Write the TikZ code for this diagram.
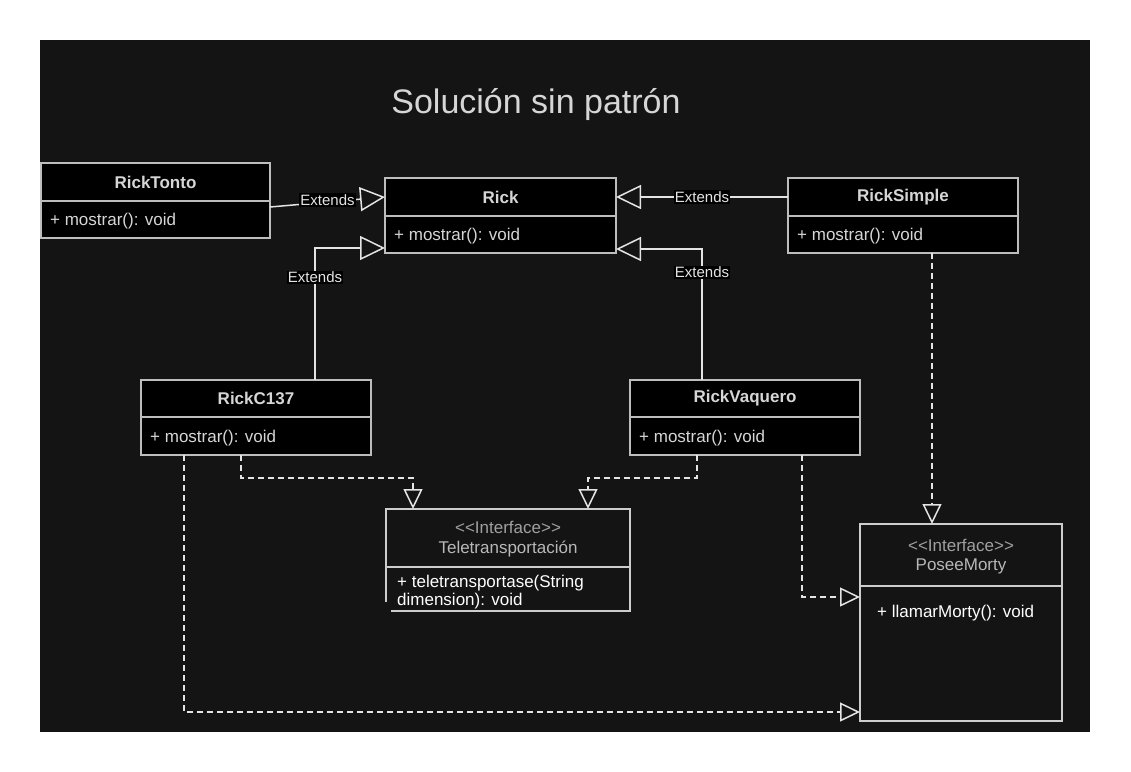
\documentclass[tikz,border=0pt]{standalone}
\usepackage{fontspec}
\setmainfont{Liberation Sans}
\usetikzlibrary{arrows.meta,calc}
\definecolor{bg}{HTML}{141414}
\definecolor{boxline}{HTML}{BDBDBD}
\definecolor{hdrtext}{HTML}{D6D6D6}
\definecolor{conn}{HTML}{E4E4E4}
\definecolor{stereo}{HTML}{A0A0A0}
\definecolor{iname}{HTML}{B8B8B8}
\tikzset{
  cbox/.style={draw=boxline, fill=black, line width=1.5pt, inner sep=0pt, outer sep=0pt},
  cline/.style={draw=boxline, line width=1.5pt},
  ibox/.style={draw=conn!90!black, line width=1.5pt},
  hdr/.style={font=\fontsize{17}{20}\selectfont\bfseries, text=hdrtext, inner sep=0pt},
  meth/.style={font=\fontsize{17}{20}\selectfont, text=hdrtext, inner sep=0pt, anchor=west, yshift=-2pt},
  imeth/.style={font=\fontsize{17}{20}\selectfont, text=white, inner sep=0pt, anchor=west},
  stereotxt/.style={font=\fontsize{17}{20}\selectfont, text=stereo, inner sep=0pt},
  inametxt/.style={font=\fontsize{17}{20}\selectfont, text=iname, inner sep=0pt},
  extlabel/.style={font=\fontsize{15}{18}\selectfont, text=conn, fill=black, inner sep=1pt},
  ext/.style={draw=conn, line width=1.5pt, -{Triangle[open, length=25pt, width=24pt, line width=1.5pt]}},
  impl/.style={draw=conn, line width=1.5pt, dash pattern=on 6pt off 4pt, -{Triangle[open, length=20pt, width=19pt, line width=1.5pt]}},
}
\newcommand{\umlbox}[8]{%
  \node[cbox, minimum width=#4pt, minimum height=#5pt, anchor=north west] (#1) at (#2,#3) {};
  \draw[cline] ({#2},{#3+#6}) -- ++(#4,0);
  \node[hdr] (#1h) at ({#2+#4/2},{#3+#6/2}) {#7};
  \node[meth] (#1m) at ({#2+9},{#3+#6+(#5-#6)/2}) {#8};
}
\newcommand{\stereoInterface}{\textless\kern0pt\textless\kern0pt Interface\kern0pt\textgreater\kern0pt\textgreater}
\begin{document}
\begin{tikzpicture}[x=1pt, y=-1pt]
\useasboundingbox (0,0) rectangle (1131,771);
\fill[white] (0,0) rectangle (1131,771);
\fill[bg] (40,40) rectangle (1090,732);

\node[font=\fontsize{34}{40}\selectfont, text=hdrtext, inner sep=0pt] (title) at (536,105) {Solución sin patrón};

\umlbox{tonto}{41}{163}{229}{75}{38}{RickTonto}{+ mostrar(): void}
\umlbox{rick}{385}{178}{231}{75}{38}{Rick}{+ mostrar(): void}
\umlbox{simple}{788}{178}{230}{75}{38}{RickSimple}{+ mostrar(): void}
\umlbox{c137}{141}{380}{230}{75}{37}{RickC137}{+ mostrar(): void}
\umlbox{vaquero}{630}{380}{230}{75}{37}{RickVaquero}{+ mostrar(): void}

% Interface Teletransportacion
\node[minimum width=244pt, minimum height=102pt, anchor=north west, inner sep=0pt, outer sep=0pt] (tele) at (386,509) {};
\draw[ibox] (391,611) -- (630,611) -- (630,509) -- (386,509) -- (386,602);
\draw[ibox] (386,567) -- (630,567);
\node[stereotxt] (teles) at (508,527) {\stereoInterface};
\node[inametxt] (telen) at (508,549) {Teletransportación};
\node[imeth] (telem1) at (397,583) {+ teletransportase(String};
\node[imeth] (telem2) at (397,601) {dimension): void};

% Interface PoseeMorty
\node[draw=conn!90!black, line width=1.5pt, minimum width=202pt, minimum height=197pt, anchor=north west, inner sep=0pt, outer sep=0pt] (posee) at (860,524) {};
\draw[ibox] (860,586) -- (1062,586);
\node[stereotxt] (poses) at (961,545) {\stereoInterface};
\node[inametxt] (posen) at (961,566) {PoseeMorty};
\node[imeth] (poseem) at (877,613) {+ llamarMorty(): void};

% Extends connectors
\draw[ext] ([yshift=-6.5pt]tonto.east) -- node[extlabel, pos=0.5, yshift=2pt] (l1) {Extends} ([yshift=18.5pt]rick.west);
\draw[ext] ([yshift=18.5pt]simple.west) -- node[extlabel, pos=0.5] (l2) {Extends} ([yshift=18.5pt]rick.east);
\draw[ext] ([xshift=59pt]c137.north) |- node[extlabel, pos=0.39] (l3) {Extends} ([yshift=-32.5pt]rick.west);
\draw[ext] ([xshift=-43pt]vaquero.north) |- node[extlabel, pos=0.41] (l4) {Extends} ([yshift=-33.5pt]rick.east);

% Realization connectors
\draw[impl] ([xshift=-15pt]c137.south) -- ++(0,23) -| ([xshift=-95pt]tele.north);
\draw[impl] ([xshift=-48pt]vaquero.south) -- ++(0,23) -| ([xshift=80pt]tele.north);
\draw[impl] ([xshift=57pt]vaquero.south) |- ([yshift=25.5pt]posee.west);
\draw[impl] ([xshift=29pt]simple.south) -- ([xshift=-29pt]posee.north);
\draw[impl] ([xshift=-72pt]c137.south) |- ([yshift=-89.5pt]posee.west);
\end{tikzpicture}
\end{document}
